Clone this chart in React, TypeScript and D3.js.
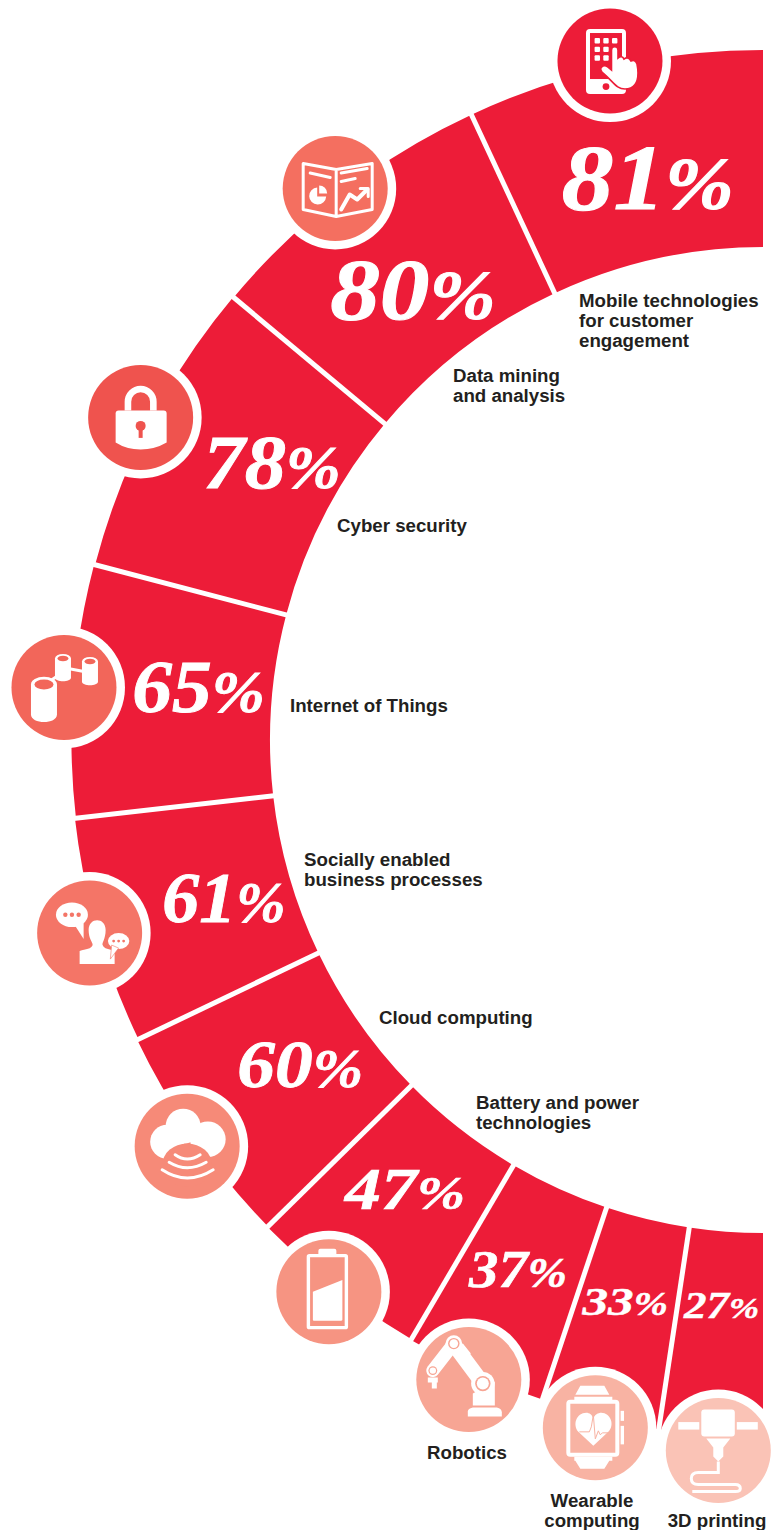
import * as d3 from "d3";

// Data, in drawing order (top of the arc, going anticlockwise)
const categories = [
  ["Mobile technologies", "for customer", "engagement"],
  ["Data mining", "and analysis"],
  ["Cyber security"],
  ["Internet of Things"],
  ["Socially enabled", "business processes"],
  ["Cloud computing"],
  ["Battery and power", "technologies"],
  ["Robotics"],
  ["Wearable", "computing"],
  ["3D printing"],
];
const percents = [81, 80, 78, 65, 61, 60, 47, 37, 33, 27];
// angular width of every slice in the picture, in degrees
const sliceSpans = [25, 25.1, 25.2, 21.2, 19.1, 18.9, 15.1, 11.9, 9.9, 8.6];

// Layout
const width = 780;
const height = 1530;
const cx = 763;
const cy = 740;
const innerRadius = 493;
// the outer edge drifts out a little towards the bottom
const outerRadii = [690, 690, 690.5, 691.5, 692.5, 694, 694.7, 695.5, 697, 698];
const red = "#ed1c38";
const iconColors = ["#ed1c38", "#f46f60", "#ef534e", "#f2665a", "#f47567", "#f68a78", "#f69482", "#f7a594", "#f8b3a3", "#fac3b6"];
const iconAngles = [12.7, 37.8, 62.6, 85.7, 106, 125.2, 141.8, 155.3, 166.3, 176.4];
const iconRadii = [696, 698, 701, 701, 700.5, 704.7, 702, 704, 708, 712];
const valueAngles = [11.6, 37.9, 60.5, 84.7, 106.4, 125, 141.5, 155.2, 166.2, 175.8];
const valueRadii = [573, 570, 564, 567, 562, 565, 575, 584, 578, 567];
const valueSizes = [93, 87, 77, 73, 71, 68, 59, 52, 41, 37];
const valueStretch = [1.11, 1.14, 1.07, 1.09, 1.04, 1.11, 1.22, 1.13, 1.25, 1.22];
const labelX = [579, 453, 337, 290, 304, 379, 476, 467, 592, 717];
const labelY = [307, 382, 532, 712, 866, 1024, 1109, 1459, 1507, 1527];

const rad = (deg: number) => (-deg * Math.PI) / 180;
const polar = (deg: number, r: number) => {
  const [x, y] = d3.pointRadial(rad(deg), r);
  return [cx + x, cy + y];
};

const pie = d3.pie<number>().sort(null).startAngle(0).endAngle(-Math.PI);
const arc = d3
  .arc<d3.PieArcDatum<number>>()
  .innerRadius(innerRadius)
  .outerRadius((d) => outerRadii[d.index]);

function Icon({ index, bg }: { index: number; bg: string }) {
  const w = "#fff";
  switch (index) {
    case 0: // phone and hand
      return (
        <g>
          <rect x={-24} y={-32} width={40} height={65} rx={4} fill={w} />
          <rect x={-20} y={-28} width={32} height={46} fill={bg} />
          <circle cx={-4} cy={25.5} r={3.4} fill={bg} />
          {[-20.3, -11.7, -3].map((y) =>
            [-12.7, -4, 4.7].map((x) =>
              y > -12 && x > 0 ? null : (
                <rect key={`${x}${y}`} x={x - 2.7} y={y - 2.7} width={5.4} height={5.4} rx={1} fill={w} />
              ),
            ),
          )}
          <path
            d="M1.5-11A3.2 3.2 0 0 1 8-11V-3Q12-6 14-2 18-5 21 0 25-2 27 3Q28 8 28 12 28 28 15 28C6 28 4 21-8 11Q-11 7-7 5-5 4-2 6L1.5 9Z"
            fill={w}
            stroke={bg}
            strokeWidth={1.6}
          />
        </g>
      );
    case 1: // report
      return (
        <g fill="none" stroke={w} strokeWidth={3} strokeLinecap="round" strokeLinejoin="round">
          <path d="M-32-25L1-19 37-25V21L1 28-32 21ZM1-19V28" />
          <path d="M-25-15.5L-5-11M6-15.5L32-20M6-7L20-10" />
          <path d="M6 21L14.5 6 22 11 32 1" strokeWidth={4} />
          <path d="M25 0H33V8" strokeWidth={3} />
          <path d="M-18-1A8.5 8.5 0 1 0-9 8H-18Z" fill={w} stroke="none" />
          <path d="M-16-3A8 8 0 0 1-8 5H-16Z" fill={w} stroke="none" />
        </g>
      );
    case 2: // lock
      return (
        <g>
          <path d="M-12.7-7V-15.7A12.7 12.7 0 0 1 12.7-15.7V-7" fill="none" stroke={w} strokeWidth={6.6} />
          <path d="M-25-4Q-25-7-22-7H23Q26-7 26-4V25Q14 32 0 32-14 32-25 25Z" fill={w} />
          <circle cx={0} cy={8.5} r={5} fill={bg} />
          <rect x={-2} y={8.5} width={4} height={12} fill={bg} />
        </g>
      );
    case 3: // linked databases
      return (
        <g>
          <path d="M-16-5L-3-14M4-19L20-16" stroke={w} strokeWidth={3} />
          <path d="M-33-3V27C-33 37-7 37-7 27V-3Z" fill={w} />
          <ellipse cx={-20} cy={-3} rx={13} ry={7.6} fill={w} />
          <ellipse cx={-20} cy={-3} rx={9.5} ry={5} fill={bg} />
          <path d="M-9-29V-10C-9-5 7-5 7-10V-29Z" fill={w} />
          <ellipse cx={-1} cy={-29} rx={8} ry={4.4} fill={w} />
          <ellipse cx={-1} cy={-29} rx={5.5} ry={2.8} fill={bg} />
          <path d="M18-26V-6C18-1 34-1 34-6V-26Z" fill={w} />
          <ellipse cx={26} cy={-26} rx={8} ry={4.4} fill={w} />
          <ellipse cx={26} cy={-26} rx={5.5} ry={2.8} fill={bg} />
        </g>
      );
    case 4: // person with speech bubbles
      return (
        <g>
          <ellipse cx={-17.7} cy={-18.3} rx={16} ry={12.3} fill={w} />
          <path d="M-15-8L-6 6-6-10Z" fill={w} />
          {[-24.3, -17.7, -11].map((x) => (
            <circle key={x} cx={x} cy={-18.3} r={2.2} fill={bg} />
          ))}
          <path d="M-1-3C-1-16 16-16 16-3 16 6 12 10 13 12 14 16 20 16 25 18V31H-10V18C-4 16 2 16 3 12 3 9-1 6-1-3Z" fill={w} />
          <ellipse cx={29} cy={8} rx={12} ry={9.3} fill={bg} />
          <ellipse cx={29} cy={8} rx={10.7} ry={8} fill={w} />
          <path d="M22 12L20.7 26 29 15Z" fill={w} stroke={bg} strokeWidth={0.6} />
          {[24, 29, 34].map((x) => (
            <circle key={x} cx={x} cy={8} r={1.4} fill={bg} />
          ))}
        </g>
      );
    case 5: // cloud
      return (
        <g>
          <circle cx={-20} cy={-4.5} r={17} fill={w} />
          <circle cx={-4} cy={-20} r={17.5} fill={w} />
          <circle cx={20.7} cy={-7} r={17.8} fill={w} />
          <ellipse cx={0} cy={19} rx={25} ry={21.7} fill={bg} />
          <g fill="none" stroke={w} strokeWidth={3} strokeLinecap="round">
            <path d="M-12 8.5Q0 17 13 8.5" />
            <path d="M-18 16Q0 27 19 16" />
            <path d="M-25 23.5Q0 40 26 23.5" />
          </g>
        </g>
      );
    case 6: // battery
      return (
        <g>
          <rect x={-10.5} y={-43} width={18} height={8} rx={2} fill={w} />
          <rect x={-20.5} y={-36} width={38} height={72} rx={1} fill={bg} stroke={w} strokeWidth={3.4} />
          <path d="M-16 0L13.5-11.7V28Q13.5 29 12 29H-15Q-16 29-16 28Z" fill={w} />
        </g>
      );
    case 7: // robot arm
      return (
        <g>
          <path d="M-1 37V32Q-1 29 4 28H28Q33 29 33 33V37Z" fill={w} />
          <path d="M4 26V14L26 2V26Z" fill={w} />
          <path d="M-41-2H-31V3H-32V9H-37V3H-41Z" fill={w} />
          <g stroke={w} strokeLinecap="round" fill="none">
            <path d="M14 4L-12-31" strokeWidth={15} />
            <path d="M-15-36L-36-9" strokeWidth={13} />
          </g>
          <path d="M-6-36L2-26 -4-21-10-29" fill={w} />
          <circle cx={14} cy={4} r={11.7} fill={w} />
          <circle cx={14} cy={4} r={7.7} fill={bg} />
          <circle cx={14} cy={4} r={6} fill={w} />
          <circle cx={-15} cy={-36} r={8.3} fill={w} />
          <circle cx={-15} cy={-36} r={5.7} fill={bg} />
          <circle cx={-15} cy={-36} r={4.3} fill={w} />
          <circle cx={-36} cy={-9} r={6} fill={w} />
          <circle cx={-36} cy={-9} r={4.4} fill={bg} />
          <circle cx={-36} cy={-9} r={3.2} fill={w} />
        </g>
      );
    case 8: // smart watch
      return (
        <g>
          <path d="M-15-42H9L14-33H-20ZM-21-31H17V-27H-21Z" fill={w} />
          <path d="M-15 41H9L14 33H-20ZM-21 29H17V33H-21Z" fill={w} />
          <rect x={-27} y={-26} width={49} height={53} rx={2} fill="none" stroke={w} strokeWidth={4} />
          <rect x={25.3} y={-17} width={3.4} height={10} fill={w} />
          <rect x={25.3} y={-2} width={3.4} height={18.5} fill={w} />
          <path d="M-2 18L-17 4C-23-3-19-15-9-15-6-15-3-13-2-9-1-13 3-15 6-15 15-15 20-3 13 4Z" fill={w} />
          <path d="M-16 4H-6L-4-1-2-13 0 11 3 3 5 7 7 5H14" fill="none" stroke={bg} strokeWidth={1} />
        </g>
      );
    default: // 3D printer
      return (
        <g>
          <rect x={-17} y={-41} width={33.5} height={27} rx={3} fill={w} />
          <rect x={-40} y={-28.5} width={21} height={7.5} fill={w} />
          <rect x={18.5} y={-28.5} width={21} height={7.5} fill={w} />
          <path d="M-12-12H12L5-3V6L0 11-5 6V-3Z" fill={w} />
          <path d="M0 11V22H-20Q-27 22-27 28-27 34-20 34H17Q22 34 22 38 22 41 17 41H-26" fill="none" stroke={w} strokeWidth={3} />
        </g>
      );
  }
}

export default function App() {
  const slices = pie(sliceSpans);

  return (
    <svg width={width} height={height} style={{ position: "absolute", left: 0, top: 0 }}>
      <g transform={`translate(${cx},${cy})`}>
        {slices.map((d, i) => (
          <path key={i} d={arc(d) ?? undefined} fill={red} />
        ))}
        {/* white gaps between the slices */}
        {slices.slice(1).map((d, i) => {
          const [x1, y1] = d3.pointRadial(d.startAngle, innerRadius - 3);
          const [x2, y2] = d3.pointRadial(d.startAngle, outerRadii[d.index] + 6);
          return <line key={i} x1={x1} y1={y1} x2={x2} y2={y2} stroke="#fff" strokeWidth={5} />;
        })}
      </g>

      {percents.map((v, i) => {
        const [x, y] = polar(valueAngles[i], valueRadii[i]);
        const size = valueSizes[i];
        return (
          <text
            key={v}
            transform={`translate(${x},${y + size * 0.33}) scale(${valueStretch[i]},1)`}
            textAnchor="middle"
            fill="#fff"
            stroke="#fff"
            strokeWidth={size * 0.012}
            fontFamily="'Liberation Serif', serif"
            fontWeight="bold"
            fontStyle="italic"
            fontSize={size}
          >
            {v}
            <tspan fontSize={size * 0.8}>%</tspan>
          </text>
        );
      })}

      {iconColors.map((color, i) => {
        const [x, y] = polar(iconAngles[i], iconRadii[i]);
        return (
          <g key={i} transform={`translate(${x},${y})`}>
            <circle r={61} fill="#fff" />
            <circle r={52.5} fill={color} />
            <Icon index={i} bg={color} />
          </g>
        );
      })}

      {categories.map((lines, i) => (
        <text
          key={i}
          x={labelX[i]}
          y={labelY[i]}
          textAnchor={i >= 7 ? "middle" : "start"}
          fill="#231f20"
          fontFamily="'Liberation Sans', sans-serif"
          fontWeight="bold"
          fontSize={18.7}
        >
          {lines.map((line, j) => (
            <tspan key={j} x={labelX[i]} dy={j === 0 ? 0 : 20}>
              {line}
            </tspan>
          ))}
        </text>
      ))}
    </svg>
  );
}
